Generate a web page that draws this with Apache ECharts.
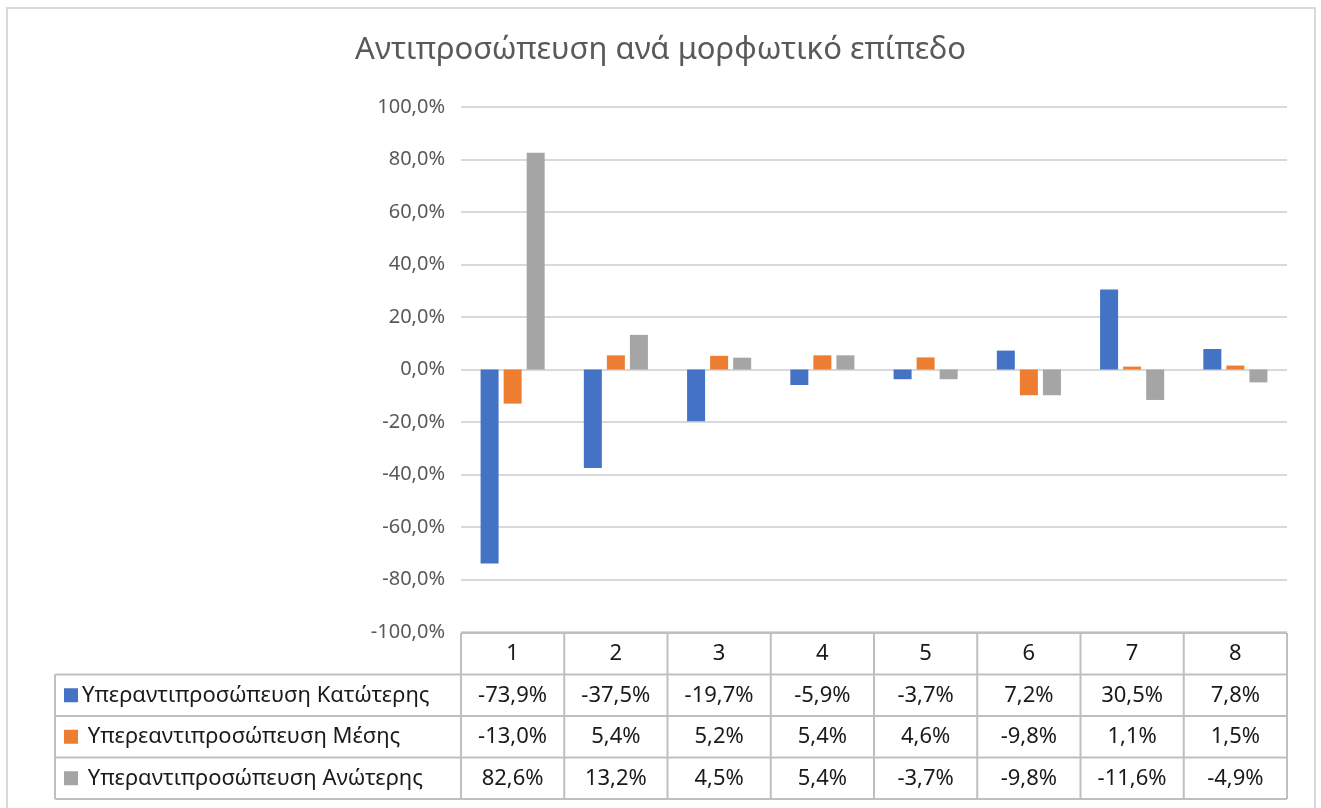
<!DOCTYPE html>
<html>
<head>
<meta charset="utf-8">
<script src="https://cdn.jsdelivr.net/npm/echarts@6/dist/echarts.min.js"></script>
<style>
  html, body { margin: 0; padding: 0; background: #fff; }
  #chart { width: 1321px; height: 808px; }
</style>
</head>
<body>
<div id="chart"></div>
<script>
const categories = ['1', '2', '3', '4', '5', '6', '7', '8'];
const seriesNames = ['Υπεραντιπροσώπευση Κατώτερης', ' Υπερεαντιπροσώπευση Μέσης', ' Υπεραντιπροσώπευση Ανώτερης'];
const lowerValues = [-73.9, -37.5, -19.7, -5.9, -3.7, 7.2, 30.5, 7.8];
const middleValues = [-13.0, 5.4, 5.2, 5.4, 4.6, -9.8, 1.1, 1.5];
const upperValues = [82.6, 13.2, 4.5, 5.4, -3.7, -9.8, -11.6, -4.9];
const colors = ['#4472C4', '#ED7D31', '#A5A5A5'];

const allValues = [lowerValues, middleValues, upperValues];
const fmt = v => v.toFixed(1).replace('.', ',') + '%';
const font = '"Noto Sans", sans-serif';

const chart = echarts.init(document.getElementById('chart'));

const gridLeft = 461, gridRight = 1287, gridTop = 107, gridBottom = 632;

chart.setOption({
  animation: false,
  title: {
    text: 'Αντιπροσώπευση ανά μορφωτικό επίπεδο',
    left: 'center',
    top: 30,
    textStyle: { fontFamily: font, fontSize: 31, fontWeight: 'normal', color: '#595959' }
  },
  grid: { left: gridLeft, right: 1321 - gridRight, top: gridTop, bottom: 808 - gridBottom },
  xAxis: {
    type: 'category',
    data: categories,
    axisLine: { show: false },
    axisTick: { show: false },
    axisLabel: { show: false }
  },
  yAxis: {
    type: 'value',
    min: -100,
    max: 100,
    interval: 20,
    axisLine: { show: false },
    axisTick: { show: false },
    splitLine: { lineStyle: { color: '#d9d9d9', width: 2 } },
    axisLabel: {
      formatter: fmt,
      margin: 16,
      fontFamily: font,
      fontSize: 20,
      color: '#595959'
    }
  },
  series: allValues.map((vals, i) => ({
    name: seriesNames[i],
    type: 'bar',
    data: vals,
    barWidth: 18,
    barGap: '28%',
    itemStyle: { color: colors[i] }
  }))
});

// data table under the plot
const tableTop = 633, rowH = 41.5, tableLeft = 55;
const lineColor = '#bfbfbf';
const catW = (gridRight - gridLeft) / categories.length;
const els = [];

// outer chart border
els.push({ type: 'rect', shape: { x: 7, y: 8, width: 1308, height: 820 },
  style: { fill: 'none', stroke: '#d9d9d9', lineWidth: 2 }, silent: true });

// horizontal lines
els.push({ type: 'line', shape: { x1: gridLeft, y1: tableTop, x2: gridRight, y2: tableTop },
  style: { stroke: lineColor, lineWidth: 2 } });
for (let r = 1; r <= 4; r++) {
  const y = tableTop + r * rowH;
  els.push({ type: 'line', shape: { x1: tableLeft, y1: y, x2: gridRight, y2: y },
    style: { stroke: lineColor, lineWidth: 2 } });
}
// vertical lines
els.push({ type: 'line', shape: { x1: tableLeft, y1: tableTop + rowH, x2: tableLeft, y2: tableTop + 4 * rowH },
  style: { stroke: lineColor, lineWidth: 2 } });
for (let c = 0; c <= categories.length; c++) {
  const x = gridLeft + c * catW;
  els.push({ type: 'line', shape: { x1: x, y1: tableTop, x2: x, y2: tableTop + 4 * rowH },
    style: { stroke: lineColor, lineWidth: 2 } });
}
// header
categories.forEach((cat) => {
  const cx = chart.convertToPixel({ xAxisIndex: 0 }, cat);
  els.push({ type: 'text', x: cx, y: tableTop + rowH / 2,
    style: { text: cat, fontFamily: font, fontSize: 22, fill: '#1a1a1a', align: 'center', verticalAlign: 'middle' } });
});
// rows
allValues.forEach((vals, r) => {
  const cy = tableTop + (r + 1.5) * rowH;
  els.push({ type: 'rect', shape: { x: 64, y: cy - 7, width: 14, height: 14 }, style: { fill: colors[r] } });
  els.push({ type: 'text', x: 82, y: cy,
    style: { text: seriesNames[r], fontFamily: font, fontSize: 22, fill: '#1a1a1a', align: 'left', verticalAlign: 'middle' } });
  vals.forEach((v, c) => {
    const cx = chart.convertToPixel({ xAxisIndex: 0 }, categories[c]);
    els.push({ type: 'text', x: cx, y: cy,
      style: { text: fmt(v), fontFamily: font, fontSize: 22, fill: '#1a1a1a', align: 'center', verticalAlign: 'middle' } });
  });
});

chart.setOption({ graphic: { elements: els } });
</script>
</body>
</html>
